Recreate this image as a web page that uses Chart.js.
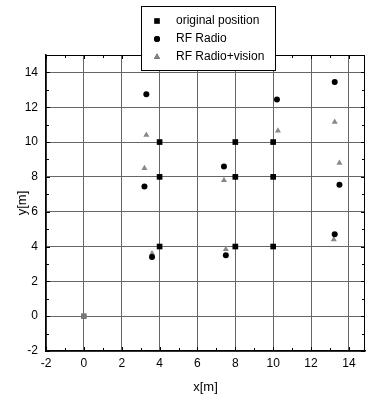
<!DOCTYPE html>
<html>
<head>
<meta charset="utf-8">
<script src="https://cdn.jsdelivr.net/npm/chart.js@4.4.1/dist/chart.umd.min.js"></script>
<style>
  html, body { margin: 0; padding: 0; background: #fff; }
  #wrap { width: 369px; height: 395px; }
</style>
</head>
<body>
<div id="wrap"><canvas id="plot" width="369" height="395"></canvas></div>
<script>
// values
var seriesNames = ["original position", "RF Radio", "RF Radio+vision"];

var origX = [0, 4, 4, 4, 8, 8, 8, 10, 10, 10];
var origY = [0, 10, 8, 4, 10, 8, 4, 10, 8, 4];

var radioX = [3.3, 3.2, 3.6, 7.4, 7.5, 10.2, 13.25, 13.5, 13.25];
var radioY = [12.75, 7.45, 3.4, 8.6, 3.5, 12.45, 13.45, 7.55, 4.7];

var visionX = [3.3, 3.2, 3.6, 7.4, 7.5, 10.25, 13.25, 13.5, 13.2];
var visionY = [10.4, 8.5, 3.6, 7.8, 3.85, 10.65, 11.15, 8.8, 4.4];

var xTicks = [-2, 0, 2, 4, 6, 8, 10, 12, 14];
var yTicks = [-2, 0, 2, 4, 6, 8, 10, 12, 14];

function toPoints(xs, ys) {
  var pts = [];
  for (var i = 0; i < xs.length; i++) pts.push({ x: xs[i], y: ys[i] });
  return pts;
}

var font = "'Liberation Sans', Arial, sans-serif";

// frame on top/right plus small inward ticks, and the boxed legend
var framePlugin = {
  id: "frame",
  afterDatasetsDraw: function (chart) {
    var ctx = chart.ctx;
    var a = chart.chartArea;
    var xs = chart.scales.x, ys = chart.scales.y;
    ctx.save();
    ctx.strokeStyle = "#000";
    ctx.lineWidth = 1;
    ctx.beginPath();
    ctx.moveTo(a.left, a.top + 0.5);
    ctx.lineTo(a.right, a.top + 0.5);
    ctx.moveTo(a.right - 0.5, a.top);
    ctx.lineTo(a.right - 0.5, a.bottom);
    ctx.stroke();

    ctx.beginPath();
    for (var v = -2; v <= 14; v++) {
      var len = v % 2 === 0 ? 4 : 3;
      var px = Math.round(xs.getPixelForValue(v)) + 0.5;
      ctx.moveTo(px, a.bottom);
      ctx.lineTo(px, a.bottom - len);
      ctx.moveTo(px, a.top);
      ctx.lineTo(px, a.top + len);
    }
    for (var w = -2; w <= 15; w++) {
      var l2 = w % 2 === 0 ? 4 : 3;
      var py = Math.round(ys.getPixelForValue(w)) + 0.5;
      ctx.moveTo(a.left, py);
      ctx.lineTo(a.left + l2, py);
      ctx.moveTo(a.right, py);
      ctx.lineTo(a.right - l2, py);
    }
    ctx.stroke();

    // legend box
    var bx = 141, by = 6, bw = 134, bh = 64;
    ctx.fillStyle = "#fff";
    ctx.fillRect(bx, by, bw, bh);
    ctx.strokeRect(bx + 0.5, by + 0.5, bw, bh);
    ctx.font = "12px " + font;
    ctx.textBaseline = "middle";
    chart.data.datasets.forEach(function (ds, i) {
      var y = 21 + i * 18;
      Chart.helpers.drawPoint(ctx, {
        pointStyle: ds.pointStyle,
        radius: ds.pointRadius,
        borderWidth: 0
      }, 157, y);
      ctx.fillStyle = ds.backgroundColor;
      ctx.fill();
      ctx.fillStyle = "#000";
      ctx.fillText(ds.label, 176, y);
    });
    ctx.restore();
  }
};

new Chart(document.getElementById("plot"), {
  type: "scatter",
  data: {
    datasets: [
      {
        label: seriesNames[0],
        data: toPoints(origX, origY),
        pointStyle: "rect",
        pointRadius: 4,
        backgroundColor: "#000",
        pointBackgroundColor: function (c) { return c.dataIndex === 0 ? "#777" : "#000"; },
        borderWidth: 0
      },
      {
        label: seriesNames[1],
        data: toPoints(radioX, radioY),
        pointStyle: "circle",
        pointRadius: 3,
        backgroundColor: "#000",
        borderWidth: 0
      },
      {
        label: seriesNames[2],
        data: toPoints(visionX, visionY),
        pointStyle: "triangle",
        pointRadius: 3.5,
        backgroundColor: "#888",
        borderWidth: 0
      }
    ]
  },
  options: {
    responsive: false,
    animation: false,
    events: [],
    layout: { padding: { top: 55, right: 1, left: 0, bottom: 0 } },
    plugins: { legend: { display: false }, tooltip: { enabled: false } },
    scales: {
      x: {
        type: "linear",
        min: -2,
        max: 14.85,
        afterBuildTicks: function (s) { s.ticks = xTicks.map(function (v) { return { value: v }; }); },
        afterFit: function (s) { s.height = 44; },
        grid: { color: "#666", lineWidth: 1, drawTicks: false },
        border: { color: "#000", width: 1.5 },
        ticks: { padding: 5, color: "#000", font: { family: font, size: 12 }, maxRotation: 0, autoSkip: false },
        title: { display: true, text: "x[m]", color: "#000", font: { family: font, size: 13 }, padding: { top: 4, bottom: 0 } }
      },
      y: {
        type: "linear",
        min: -2,
        max: 15,
        afterBuildTicks: function (s) { s.ticks = yTicks.map(function (v) { return { value: v }; }); },
        afterFit: function (s) { s.width = 46; },
        grid: { color: "#666", lineWidth: 1, drawTicks: false },
        border: { color: "#000", width: 1.5 },
        ticks: { padding: 8, color: "#000", font: { family: font, size: 12 }, autoSkip: false },
        title: { display: true, text: "y[m]", color: "#000", font: { family: font, size: 13 }, padding: { top: 15, bottom: 0 } }
      }
    }
  },
  plugins: [framePlugin]
});
</script>
</body>
</html>
